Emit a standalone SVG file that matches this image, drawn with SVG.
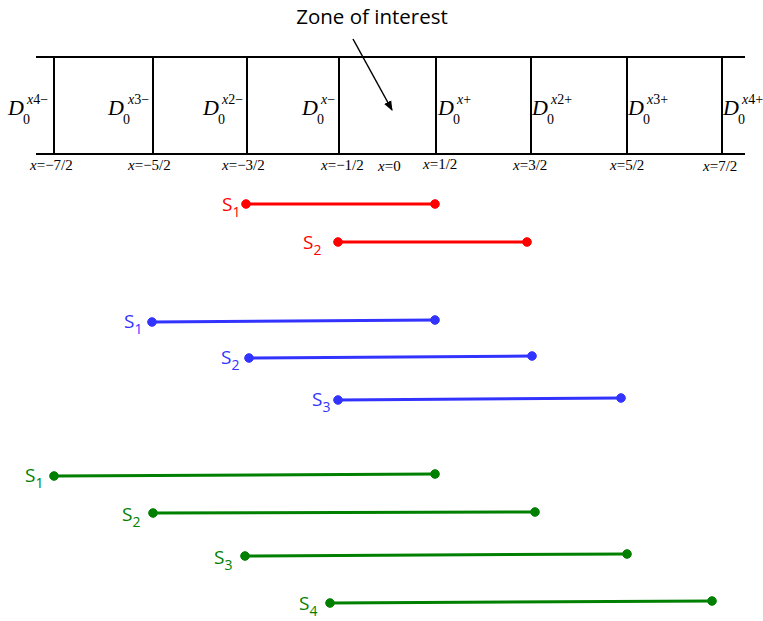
<svg xmlns="http://www.w3.org/2000/svg" width="763" height="621" viewBox="0 0 763 621">
<style>
.frame{stroke:#000;stroke-width:2;fill:none}
.D{font-family:"Liberation Serif",serif;font-style:italic;font-size:22px;fill:#000}
.sub{font-family:"Liberation Serif",serif;font-style:normal;font-size:14px}
.supx{font-family:"Liberation Serif",serif;font-style:italic;font-size:14px}
.supn{font-family:"Liberation Serif",serif;font-style:normal;font-size:14px}
.xl{font-family:"Liberation Serif",serif;font-size:15px;fill:#000}
.xl .i{font-style:italic}
.title{font-family:"Open Sans","Liberation Sans",sans-serif;font-size:20.5px;fill:#000}
.lab{font-family:"Open Sans","Liberation Sans",sans-serif;font-size:19px}
.lab .s{font-size:14px}
.red{stroke:#ff0000;fill:#ff0000}
.blue{stroke:#3333ff;fill:#3333ff}
.green{stroke:#008000;fill:#008000}
.seg{stroke-width:3;fill:none}
.tred{fill:#ff0000}
.tblue{fill:#3333ff}
.tgreen{fill:#008000}
</style>
<defs>
<marker id="ah" markerWidth="10" markerHeight="10" refX="9" refY="5" orient="auto" markerUnits="userSpaceOnUse">
<path d="M0,1 L10,5 L0,9 z" fill="#000"/>
</marker>
</defs>
<rect width="763" height="621" fill="#fff"/>
<g id="grid">
<line class="frame" x1="36" y1="57" x2="745" y2="57"/>
<line class="frame" x1="36" y1="154" x2="745" y2="154"/>
<line class="frame" x1="54" y1="57" x2="54" y2="154"/>
<line class="frame" x1="153" y1="57" x2="153" y2="154"/>
<line class="frame" x1="247" y1="57" x2="247" y2="154"/>
<line class="frame" x1="339" y1="57" x2="339" y2="154"/>
<line class="frame" x1="436" y1="57" x2="436" y2="154"/>
<line class="frame" x1="531" y1="57" x2="531" y2="154"/>
<line class="frame" x1="627" y1="57" x2="627" y2="154"/>
<line class="frame" x1="722" y1="57" x2="722" y2="154"/>
</g>
<g id="title">
<text class="title" x="372" y="24" text-anchor="middle">Zone of interest</text>
</g>
<g id="connectors">
<line x1="353" y1="39" x2="392" y2="110" stroke="#000" stroke-width="1.5" marker-end="url(#ah)"/>
</g>
<g id="dlabels">
<text class="D" x="8" y="115">D<tspan class="sub" x="23" y="124">0</tspan><tspan class="supx" x="27" y="104">x</tspan><tspan class="supn">4−</tspan></text>
<text class="D" x="108" y="115">D<tspan class="sub" x="123" y="124">0</tspan><tspan class="supx" x="128" y="104">x</tspan><tspan class="supn">3−</tspan></text>
<text class="D" x="203" y="115">D<tspan class="sub" x="218" y="124">0</tspan><tspan class="supx" x="222" y="104">x</tspan><tspan class="supn">2−</tspan></text>
<text class="D" x="302" y="115">D<tspan class="sub" x="317" y="124">0</tspan><tspan class="supx" x="321" y="104">x</tspan><tspan class="supn">−</tspan></text>
<text class="D" x="438" y="115">D<tspan class="sub" x="453" y="124">0</tspan><tspan class="supx" x="457" y="104">x</tspan><tspan class="supn">+</tspan></text>
<text class="D" x="532" y="115">D<tspan class="sub" x="547" y="124">0</tspan><tspan class="supx" x="551" y="104">x</tspan><tspan class="supn">2+</tspan></text>
<text class="D" x="628" y="115">D<tspan class="sub" x="643" y="124">0</tspan><tspan class="supx" x="647" y="104">x</tspan><tspan class="supn">3+</tspan></text>
<text class="D" x="723" y="115">D<tspan class="sub" x="738" y="124">0</tspan><tspan class="supx" x="742" y="104">x</tspan><tspan class="supn">4+</tspan></text>
</g>
<g id="xlabels">
<text class="xl" x="30" y="170"><tspan class="i">x</tspan>=−7/2</text>
<text class="xl" x="128" y="170"><tspan class="i">x</tspan>=−5/2</text>
<text class="xl" x="222" y="170"><tspan class="i">x</tspan>=−3/2</text>
<text class="xl" x="321" y="170"><tspan class="i">x</tspan>=−1/2</text>
<text class="xl" x="378" y="171"><tspan class="i">x</tspan>=0</text>
<text class="xl" x="423" y="169"><tspan class="i">x</tspan>=1/2</text>
<text class="xl" x="513" y="170"><tspan class="i">x</tspan>=3/2</text>
<text class="xl" x="610" y="170"><tspan class="i">x</tspan>=5/2</text>
<text class="xl" x="703" y="171"><tspan class="i">x</tspan>=7/2</text>
</g>
<g id="red-set">
<line class="seg red" x1="246" y1="204" x2="435" y2="204"/>
<circle class="red" cx="246" cy="204" r="4.3"/><circle class="red" cx="435" cy="204" r="4.3"/>
<text class="lab tred" x="222" y="211">S<tspan class="s" dy="6">1</tspan></text>
<line class="seg red" x1="338" y1="242" x2="527" y2="242"/>
<circle class="red" cx="338" cy="242" r="4.3"/><circle class="red" cx="527" cy="242" r="4.3"/>
<text class="lab tred" x="303" y="249">S<tspan class="s" dy="6">2</tspan></text>
</g>
<g id="blue-set">
<line class="seg blue" x1="152" y1="322" x2="435" y2="320"/>
<circle class="blue" cx="152" cy="322" r="4.3"/><circle class="blue" cx="435" cy="320" r="4.3"/>
<text class="lab tblue" x="124" y="328">S<tspan class="s" dy="6">1</tspan></text>
<line class="seg blue" x1="249" y1="358" x2="532" y2="356"/>
<circle class="blue" cx="249" cy="358" r="4.3"/><circle class="blue" cx="532" cy="356" r="4.3"/>
<text class="lab tblue" x="221" y="364">S<tspan class="s" dy="6">2</tspan></text>
<line class="seg blue" x1="338" y1="400" x2="621" y2="398"/>
<circle class="blue" cx="338" cy="400" r="4.3"/><circle class="blue" cx="621" cy="398" r="4.3"/>
<text class="lab tblue" x="312" y="406">S<tspan class="s" dy="6">3</tspan></text>
</g>
<g id="green-set">
<line class="seg green" x1="54" y1="476" x2="435" y2="474"/>
<circle class="green" cx="54" cy="476" r="4.3"/><circle class="green" cx="435" cy="474" r="4.3"/>
<text class="lab tgreen" x="25" y="482">S<tspan class="s" dy="6">1</tspan></text>
<line class="seg green" x1="153" y1="513" x2="535" y2="512"/>
<circle class="green" cx="153" cy="513" r="4.3"/><circle class="green" cx="535" cy="512" r="4.3"/>
<text class="lab tgreen" x="122" y="521">S<tspan class="s" dy="6">2</tspan></text>
<line class="seg green" x1="245" y1="556" x2="627" y2="554"/>
<circle class="green" cx="245" cy="556" r="4.3"/><circle class="green" cx="627" cy="554" r="4.3"/>
<text class="lab tgreen" x="214" y="564">S<tspan class="s" dy="6">3</tspan></text>
<line class="seg green" x1="330" y1="603" x2="712" y2="601"/>
<circle class="green" cx="330" cy="603" r="4.3"/><circle class="green" cx="712" cy="601" r="4.3"/>
<text class="lab tgreen" x="299" y="610">S<tspan class="s" dy="6">4</tspan></text>
</g>
</svg>
